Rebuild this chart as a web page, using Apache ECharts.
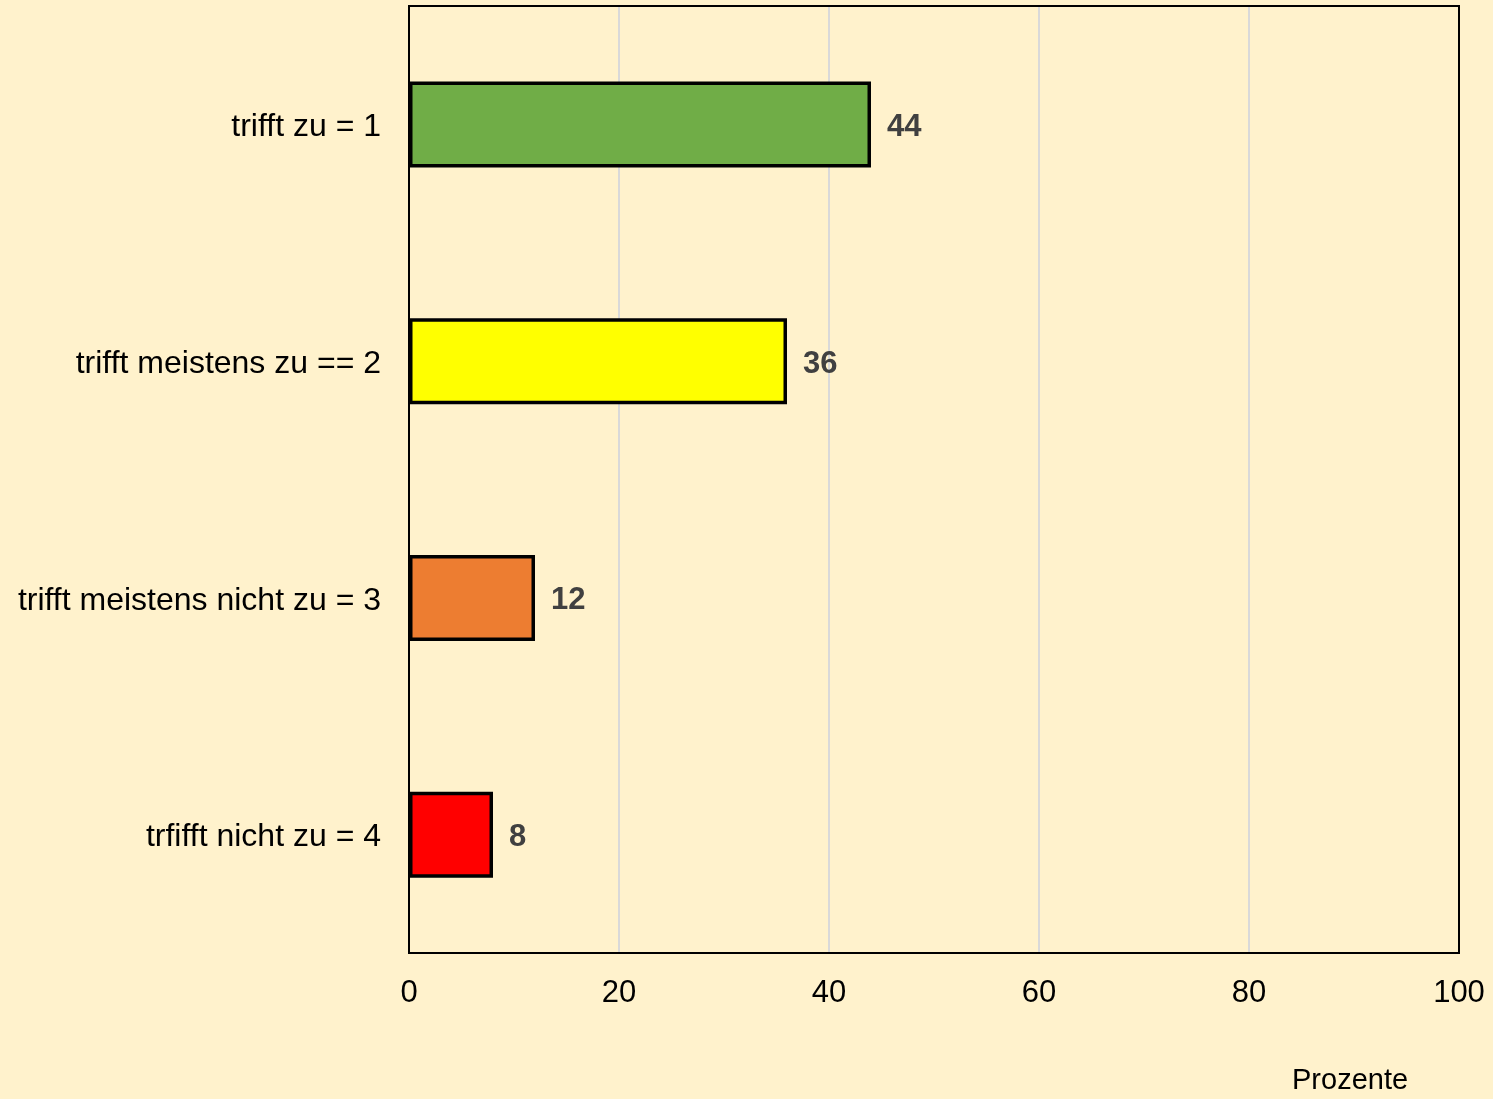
<!DOCTYPE html>
<html>
<head>
<meta charset="utf-8">
<script src="https://cdn.jsdelivr.net/npm/echarts@6/dist/echarts.min.js"></script>
<style>
html,body{margin:0;padding:0;background:#FFF2CC;}
#chart{width:1493px;height:1099px;}
</style>
</head>
<body>
<div id="chart"></div>
<script>
const categories = ["trifft zu = 1", "trifft meistens zu == 2", "trifft meistens nicht zu = 3", "trfifft nicht zu = 4"];
const values = [44, 36, 12, 8];
const barColors = ["#70AD47", "#FFFF00", "#ED7D31", "#FF0000"];
const xTicks = [0, 20, 40, 60, 80, 100];
const axisTitle = "Prozente";

const chart = echarts.init(document.getElementById('chart'), null, {renderer: 'canvas'});
const font = '"Liberation Sans", Arial, sans-serif';
chart.setOption({
  backgroundColor: '#FFF2CC',
  animation: false,
  grid: {left: 409, right: 34, top: 6, bottom: 146, show: true, borderColor: '#000', borderWidth: 2, backgroundColor: 'transparent', z: 10},
  xAxis: {
    type: 'value', min: xTicks[0], max: xTicks[xTicks.length - 1], interval: 20,
    axisLine: {show: false}, axisTick: {show: false},
    splitLine: {show: true, showMinLine: false, showMaxLine: false, lineStyle: {color: '#D9D9D9', width: 2}},
    axisLabel: {fontSize: 31, color: '#000', fontFamily: font, margin: 25}
  },
  yAxis: {
    type: 'category', data: categories, inverse: true,
    axisLine: {show: true, lineStyle: {color: '#000', width: 2}}, axisTick: {show: false},
    axisLabel: {
      color: '#000', margin: 28,
      formatter: v => '{a|' + v + '}',
      rich: {a: {fontSize: 32, color: '#000', fontFamily: font, padding: [6, 0, 0, 0]}}
    }
  },
  graphic: [{
    type: 'text', left: 1292, top: 1066,
    style: {text: axisTitle, fontSize: 29, fill: '#000', fontFamily: font}
  }],
  series: [{
    type: 'bar',
    barWidth: 86,
    data: values.map((v, i) => ({value: v, itemStyle: {color: barColors[i]}})),
    itemStyle: {borderColor: '#000', borderWidth: 3.5},
    label: {show: true, position: 'right', distance: 16, offset: [0, 3], fontSize: 31, fontWeight: 'bold', color: '#404040', fontFamily: font}
  }]
});
</script>
</body>
</html>
